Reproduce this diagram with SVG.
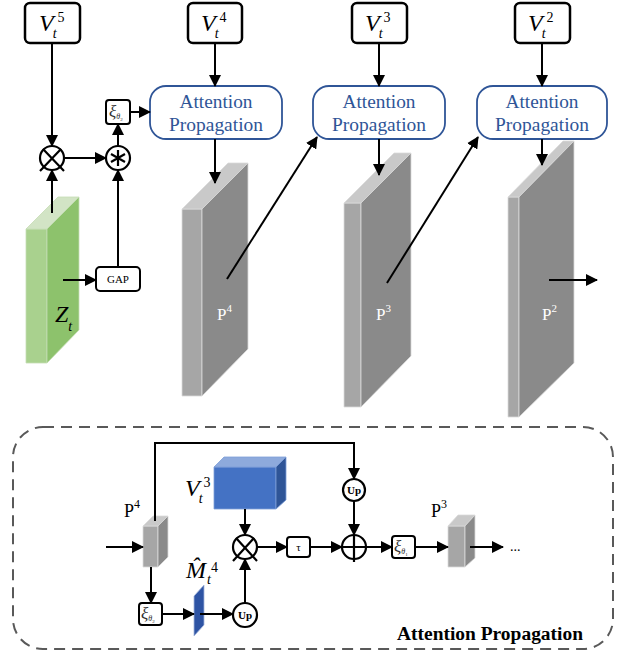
<svg xmlns="http://www.w3.org/2000/svg" width="618" height="656" viewBox="0 0 618 656">
<defs>
<marker id="ah" markerUnits="userSpaceOnUse" markerWidth="12" markerHeight="12" refX="11" refY="6" orient="auto">
<path d="M0,0 L12,6 L0,12 z" fill="#000"/>
</marker>
<style>
.vbox{fill:#fff;stroke:#000;stroke-width:2.5}
.ap{fill:#fff;stroke:#2F5597;stroke-width:1.8}
.apt{font-family:"Liberation Serif",serif;font-size:19px;fill:#2F5597;text-anchor:middle}
.vi{font-family:"Liberation Serif",serif;font-style:italic;font-size:24px;fill:#000}
.sub{font-style:italic;font-size:14px}
.sup{font-style:normal;font-size:14px}
.ca{stroke:#000;stroke-width:2;fill:none;marker-end:url(#ah)}
.op{fill:#fff;stroke:#000;stroke-width:2.2}
.sym{stroke:#000;stroke-width:2.2;fill:none}
.sbox{fill:#fff;stroke:#000;stroke-width:2}
.sm{font-family:"Liberation Serif",serif;font-size:11px;fill:#000;text-anchor:middle}
.xi{font-family:"Liberation Serif",serif;font-style:italic;font-size:17px;fill:#333}
.gl{fill:#A6A6A6;stroke:#DADADA;stroke-width:0.8}
.gr{fill:#8A8A8A;stroke:#DADADA;stroke-width:0.8}
.gt{fill:#C9C9C9;stroke:#DADADA;stroke-width:0.8}
.pw{font-family:"Liberation Serif",serif;font-size:17px;fill:#fff}
.pb{font-family:"Liberation Serif",serif;font-size:18px;fill:#000}
.up{font-family:"Liberation Serif",serif;font-size:11px;font-weight:bold;fill:#000;text-anchor:middle}
</style>
</defs>

<!-- top V boxes -->
<g id="V5"><rect class="vbox" x="25" y="3" width="55" height="40" rx="5"/><text class="vi" x="39" y="31">V<tspan class="sub" dx="-1" dy="7">t</tspan><tspan class="sup" dx="1" dy="-16">5</tspan></text></g>
<g id="V4"><rect class="vbox" x="188" y="3" width="54" height="40" rx="5"/><text class="vi" x="201" y="31">V<tspan class="sub" dx="-1" dy="7">t</tspan><tspan class="sup" dx="1" dy="-16">4</tspan></text></g>
<g id="V3"><rect class="vbox" x="352" y="3" width="55" height="40" rx="5"/><text class="vi" x="365" y="31">V<tspan class="sub" dx="-1" dy="7">t</tspan><tspan class="sup" dx="1" dy="-16">3</tspan></text></g>
<g id="V2"><rect class="vbox" x="515" y="3" width="55" height="40" rx="5"/><text class="vi" x="528" y="31">V<tspan class="sub" dx="-1" dy="7">t</tspan><tspan class="sup" dx="1" dy="-16">2</tspan></text></g>

<!-- attention propagation boxes -->
<g id="AP1"><rect class="ap" x="150" y="86" width="132" height="53" rx="16"/><text class="apt" x="216" y="108" textLength="73" lengthAdjust="spacingAndGlyphs">Attention</text><text class="apt" x="216" y="131" textLength="94" lengthAdjust="spacingAndGlyphs">Propagation</text></g>
<g id="AP2"><rect class="ap" x="313" y="86" width="132" height="53" rx="16"/><text class="apt" x="379" y="108" textLength="73" lengthAdjust="spacingAndGlyphs">Attention</text><text class="apt" x="379" y="131" textLength="94" lengthAdjust="spacingAndGlyphs">Propagation</text></g>
<g id="AP3"><rect class="ap" x="477" y="86" width="130" height="53" rx="16"/><text class="apt" x="542" y="108" textLength="73" lengthAdjust="spacingAndGlyphs">Attention</text><text class="apt" x="542" y="131" textLength="94" lengthAdjust="spacingAndGlyphs">Propagation</text></g>

<!-- Z_t block -->
<g id="Zt">
<polygon points="26,229 47,229 47,363 26,363" fill="#A9D18E" stroke="#C5DDB5" stroke-width="0.8"/>
<polygon points="26,229 47,229 79,197 58,197" fill="#D2E4C5" stroke="#C5DDB5" stroke-width="0.8"/>
<polygon points="47,229 79,197 79,330 47,363" fill="#8DC26C" stroke="#C5DDB5" stroke-width="0.8"/>
<text class="vi" x="55" y="322" fill="#1a1a1a">Z<tspan class="sub" dx="0" dy="9">t</tspan></text>
</g>

<!-- gray slabs -->
<g id="P4">
<polygon class="gl" points="182,209 202,209 202,396 182,396"/>
<polygon class="gt" points="182,209 202,209 248,163 228,163"/>
<polygon class="gr" points="202,209 248,163 248,349 202,396"/>
<text class="pw" x="217" y="320">P<tspan font-size="11" dy="-8">4</tspan></text>
</g>
<g id="P3">
<polygon class="gl" points="344,203 361,203 361,407 344,407"/>
<polygon class="gt" points="344,203 361,203 411,153 394,153"/>
<polygon class="gr" points="361,203 411,153 411,356 361,407"/>
<text class="pw" x="376" y="320">P<tspan font-size="11" dy="-8">3</tspan></text>
</g>
<g id="P2">
<polygon class="gl" points="508,197 519,197 519,417 508,417"/>
<polygon class="gt" points="508,197 519,197 574,141 563,141"/>
<polygon class="gr" points="519,197 574,141 574,363 519,417"/>
<text class="pw" x="542" y="320">P<tspan font-size="11" dy="-8">2</tspan></text>
</g>

<!-- top-left operators -->
<g id="mul1"><circle class="op" cx="52" cy="158" r="12"/><path class="sym" d="M43,149 L64,171 M61,149 L40,171"/></g>
<g id="conv"><circle class="op" cx="118" cy="158" r="12"/><path class="sym" d="M118,150 V166 M111,154 L125,162 M125,154 L111,162"/></g>
<g id="xi0"><rect class="sbox" x="106" y="100" width="24" height="24" rx="3"/><text class="xi" x="109" y="117">ξ<tspan font-size="8" dy="2">θ</tspan><tspan font-size="5" font-style="normal" dy="2">2</tspan></text></g>
<g id="GAP"><rect class="sbox" x="96" y="267" width="44" height="24" rx="4"/><text class="sm" x="118" y="283">GAP</text></g>

<!-- bottom panel -->
<g id="panel">
<rect x="13" y="427" width="600" height="222" rx="30" fill="none" stroke="#595959" stroke-width="2" stroke-dasharray="11 7"/>
<text x="490" y="640" font-family="'Liberation Serif',serif" font-size="18" font-weight="bold" text-anchor="middle" textLength="186" lengthAdjust="spacingAndGlyphs">Attention Propagation</text>
</g>
<g id="bP4">
<polygon class="gl" points="143,526 158,526 158,567 143,567"/>
<polygon class="gt" points="143,526 158,526 168,516 153,516"/>
<polygon class="gr" points="158,526 168,516 168,557 158,567"/>
<text class="pb" x="124" y="517">P<tspan font-size="12" dy="-9">4</tspan></text>
</g>
<g id="bV3">
<polygon points="214,467 276,467 276,509 214,509" fill="#4472C4" stroke="#7F9FD8" stroke-width="0.8"/>
<polygon points="214,467 276,467 286,457 224,457" fill="#8EAADC" stroke="#7F9FD8" stroke-width="0.8"/>
<polygon points="276,467 286,457 286,500 276,509" fill="#2F5597" stroke="#7F9FD8" stroke-width="0.8"/>
<text class="vi" x="185" y="496">V<tspan class="sub" dx="-1" dy="7">t</tspan><tspan class="sup" dx="1" dy="-16">3</tspan></text>
</g>
<g id="Mhat">
<polygon points="194,596 204,585 204,625 194,636" fill="#2E54A4" stroke="#A4B6DC" stroke-width="0.8"/>
<text class="vi" x="186" y="578" font-size="21">M&#x302;<tspan class="sub" font-size="12" dx="1" dy="6">t</tspan><tspan class="sup" font-size="12" dx="0" dy="-12">4</tspan></text>
</g>
<g id="bxi2"><rect class="sbox" x="139" y="603" width="23" height="22" rx="3"/><text class="xi" x="141" y="619">ξ<tspan font-size="8" dy="2">θ</tspan><tspan font-size="5" font-style="normal" dy="2">2</tspan></text></g>
<g id="bup1"><circle class="op" cx="245" cy="615" r="12"/><text class="up" x="245" y="619">Up</text></g>
<g id="bmul"><circle class="op" cx="245" cy="547" r="12"/><path class="sym" d="M236,538 L257,561 M254,538 L233,561"/></g>
<g id="tau"><rect class="sbox" x="287" y="537" width="23" height="20" rx="3"/><text class="sm" x="298.5" y="551">τ</text></g>
<g id="bup2"><circle class="op" cx="354" cy="490" r="11"/><text class="up" x="354" y="494">Up</text></g>
<g id="plus"><circle class="op" cx="354" cy="547" r="12"/><path class="sym" d="M354,535 V562 M342,547 H366"/></g>
<g id="bxi1"><rect class="sbox" x="392" y="536" width="23" height="22" rx="3"/><text class="xi" x="394" y="552">ξ<tspan font-size="8" dy="2">θ</tspan><tspan font-size="5" font-style="normal" dy="2">1</tspan></text></g>
<g id="bP3">
<polygon class="gl" points="448,526 465,526 465,567 448,567"/>
<polygon class="gt" points="448,526 465,526 475,515 458,515"/>
<polygon class="gr" points="465,526 475,515 475,558 465,567"/>
<text class="pb" x="431" y="517">P<tspan font-size="12" dy="-9">3</tspan></text>
</g>
<text x="510" y="551" font-family="'Liberation Serif',serif" font-size="14">...</text>

<!-- connectors -->
<g id="connectors">
<path class="ca" d="M52,43 V146"/>
<path class="ca" d="M215,43 V86"/>
<path class="ca" d="M379,43 V86"/>
<path class="ca" d="M542,43 V86"/>
<path class="ca" d="M64,158 H106"/>
<path class="ca" d="M118,146 V124"/>
<path class="ca" d="M130,112 H150"/>
<path class="ca" d="M52,213 V170"/>
<path class="ca" d="M118,267 V170"/>
<path class="ca" d="M63,280 H96"/>
<path class="ca" d="M215,139 V183"/>
<path class="ca" d="M379,139 V175"/>
<path class="ca" d="M542,139 V165"/>
<path class="ca" d="M227,279 L317,137"/>
<path class="ca" d="M387,283 L478,137"/>
<path class="ca" d="M549,280 H597"/>
<path class="ca" d="M155,521 V443 H354 V479"/>
<path class="ca" d="M106,547 H143"/>
<path class="ca" d="M151,567 V603"/>
<path class="ca" d="M162,614 H194"/>
<path class="ca" d="M200,614 H233"/>
<path class="ca" d="M245,603 V559"/>
<path class="ca" d="M245,509 V535"/>
<path class="ca" d="M257,547 H287"/>
<path class="ca" d="M310,547 H342"/>
<path class="ca" d="M354,501 V535"/>
<path class="ca" d="M366,547 H392"/>
<path class="ca" d="M415,547 H448"/>
<path class="ca" d="M470,547 H503"/>
</g>
</svg>
